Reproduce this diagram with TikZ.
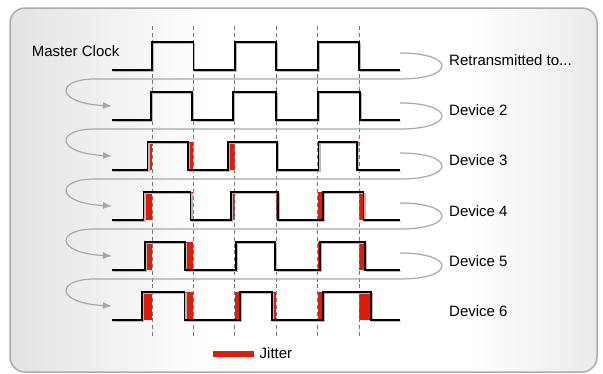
\documentclass[tikz,border=0pt]{standalone}
\usepackage{fontspec}
\setmainfont{Liberation Sans}
\usetikzlibrary{arrows.meta}

\definecolor{jitterred}{RGB}{224,28,8}
\definecolor{loopgray}{RGB}{168,168,168}
\definecolor{framegray}{RGB}{172,172,172}
\definecolor{guidegray}{RGB}{118,118,118}

% soft grey at the left and right edges of the panel, white in the middle
\pgfdeclarehorizontalshading{panelshade}{100bp}{%
  color(0bp)=(black!11); color(25bp)=(black!11); color(42bp)=(white);
  color(64bp)=(white); color(75bp)=(black!8); color(100bp)=(black!8)}

\tikzset{
  lbl/.style={anchor=base west, inner sep=0pt, font=\fontsize{15}{18}\selectfont},
  guide/.style={draw=guidegray, line width=0.8pt, dash pattern=on 4pt off 2.8pt},
  wave/.style={draw=black, line width=1.8pt, line join=miter},
  waveshadow/.style={draw=black!28, line width=1.4pt},
  jit/.style={fill=jitterred},
  loopline/.style={draw=loopgray, line width=1.2pt,
    -{Latex[length=9pt,width=7pt]}},
}

\begin{document}
\begin{tikzpicture}[x=1pt, y=-1pt]
\useasboundingbox (0,0) rectangle (603,373);

% panel
\shade[shading=panelshade, rounded corners=15pt] (10,8) rectangle (597,372);
\draw[framegray, line width=1.5pt, rounded corners=15pt] (10,8) rectangle (597,372);

% jitter areas between each ideal edge and the received edge
\foreach \L/\ra/\fa/\rb/\fb/\rc/\fc in {
    70/152/193.4/234.8/276.2/317.6/359,
    120/150.7/192.3/233/276.2/317.6/360.3,
    170/147.5/188.3/228/277.3/318.5/357.3,
    220/143.5/190.5/231/277.8/322.7/363.5,
    270/145.3/185.3/235.8/275/320.3/365.3,
    320/142/184.5/240/271.7/323.2/370.8}{
  \pgfmathsetmacro\H{\L-28}
  \fill[jit] (\ra,\H) rectangle (152,\L);
  \fill[jit] (\fa,\H) rectangle (193.4,\L);
  \fill[jit] (\rb,\H) rectangle (234.8,\L);
  \fill[jit] (\fb,\H) rectangle (276.2,\L);
  \fill[jit] (\rc,\H) rectangle (317.6,\L);
  \fill[jit] (\fc,\H) rectangle (359,\L);
}

% ideal clock edges
\foreach \x in {152,193.4,234.8,276.2,317.6,359}
  \draw[guide] (\x,26) -- (\x,336);

% clock waveforms
\foreach \L/\ra/\fa/\rb/\fb/\rc/\fc in {
    70/152/193.4/234.8/276.2/317.6/359,
    120/150.7/192.3/233/276.2/317.6/360.3,
    170/147.5/188.3/228/277.3/318.5/357.3,
    220/143.5/190.5/231/277.8/322.7/363.5,
    270/145.3/185.3/235.8/275/320.3/365.3,
    320/142/184.5/240/271.7/323.2/370.8}{
  \pgfmathsetmacro\H{\L-28}
  \draw[waveshadow, xshift=1.3pt, yshift=-1.3pt]
    (111.7,\L) -- (\ra,\L) -- (\ra,\H) -- (\fa,\H) -- (\fa,\L)
    -- (\rb,\L) -- (\rb,\H) -- (\fb,\H) -- (\fb,\L)
    -- (\rc,\L) -- (\rc,\H) -- (\fc,\H) -- (\fc,\L) -- (400,\L);
  \draw[wave]
    (111.7,\L) -- (\ra,\L) -- (\ra,\H) -- (\fa,\H) -- (\fa,\L)
    -- (\rb,\L) -- (\rb,\H) -- (\fb,\H) -- (\fb,\L)
    -- (\rc,\L) -- (\rc,\H) -- (\fc,\H) -- (\fc,\L) -- (400,\L);
}

% retransmission loops from each device to the next
\foreach \i in {1,...,5}{
  \pgfmathsetmacro\L{70+50*(\i-1)}
  \coordinate (send\i) at (400,\L-17);
  \coordinate (turn\i) at (400,\L+9);
  \coordinate (back\i) at (95,\L+9);
  \coordinate (recv\i) at (112,\L+36);
  \draw[loopline] (send\i) .. controls +(56,0) and +(56,0) .. (turn\i)
    -- (back\i) .. controls +(-40,0) and +(-57,-3) .. (recv\i);
}

% labels
\node[lbl] (master) at (31.7,56.7) {Master Clock};
\node[lbl] (retx) at (449,65) {Retransmitted to...};
\node[lbl] (dev2) at (449,115) {Device 2};
\node[lbl] (dev3) at (449,165) {Device 3};
\node[lbl] (dev4) at (449,216) {Device 4};
\node[lbl] (dev5) at (449,266) {Device 5};
\node[lbl] (dev6) at (449,316.5) {Device 6};

% legend
\node[fill=jitterred, minimum width=41pt, minimum height=6pt, inner sep=0pt]
  (key) at (233.5,353.7) {};
\node[lbl] (keytext) at (259.5,358.3) {Jitter};
\end{tikzpicture}
\end{document}
